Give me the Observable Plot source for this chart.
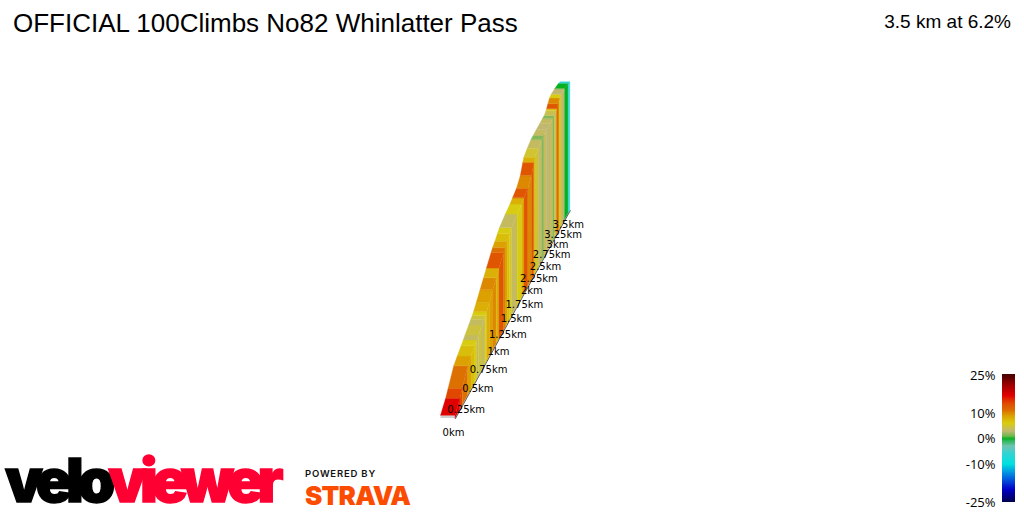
<!DOCTYPE html>
<html><head><meta charset="utf-8">
<script src="https://cdn.jsdelivr.net/npm/d3@7"></script>
<script src="https://cdn.jsdelivr.net/npm/@observablehq/plot@0.6"></script>
<style>
html,body{margin:0;padding:0;background:#fff;width:1024px;height:512px;overflow:hidden}
#wrap{position:relative;width:1024px;height:512px}
#wrap>*{position:absolute}
.t{font-family:"Liberation Sans",Arial,sans-serif;color:#000;white-space:nowrap}
</style></head><body><div id="wrap">
<div class="t" id="title" style="left:13px;top:8px;font-size:26px">OFFICIAL 100Climbs No82 Whinlatter Pass</div>
<div class="t" id="sub" style="right:13px;top:11px;font-size:19px">3.5 km at 6.2%</div>
<svg id="logo" width="420" height="62" style="left:0;top:450px">
<text x="5" y="52" font-family="Inter,sans-serif" font-weight="900" font-size="60" letter-spacing="-6.1" stroke-width="1.4" style="paint-order:stroke"><tspan fill="#000" stroke="#000">velo</tspan><tspan fill="#ff0033" stroke="#ff0033">viewer</tspan></text>
<text x="305" y="27" font-family="Inter,sans-serif" font-weight="600" font-size="9.5" letter-spacing=".8" fill="#111">POWERED BY</text>
<text x="305" y="55" font-family="Inter,sans-serif" font-weight="900" font-size="26" letter-spacing="-.8" fill="#fc4c02">STRAVA</text>
</svg>
</div>
<script>
// profile: segment boundaries (km), elevation above start (m), gradient colour class per segment (%)
const distanceKm = [0,.094,.141,.25,.32,.40,.443,.48,.56,.606,.637,.667,.731,.817,.902,.973,1.09,1.13,1.19,1.255,1.31,1.477,1.615,1.69,1.813,1.937,2.016,2.05,2.166,2.294,2.38,2.49,2.62,2.73,2.80,2.873,2.896,2.95,3.02,3.09,3.25,3.42,3.5];
const elevationM = [3,11.5,17.7,32,36.2,41,43.5,45.9,50.5,53.3,55.1,57,63.2,71.2,79.2,86,96.7,100,104,109,113,120.2,125.2,128.8,134.8,145.5,159.7,164.8,171.7,178,180.3,183.2,186.4,189.2,190.9,195.2,197.3,202.6,208.9,212,215,217,216.5];
const gradientPct = [17,14,11,9,7,6,3.5,4.5,3.5,4.5,6,8,9,10,8,13,11,9,7,6,3.5,6,8,13,10,13,8,5,3.5,1.5,3.5,3,3.5,1.5,4,6,13,10,6,3,0,-6];
const kmTicks = [0,.25,.5,.75,1,1.25,1.5,1.75,2,2.25,2.5,2.75,3,3.25,3.5];
const legendTicks = [25,10,0,-10,-25];
const colorStops = [-25,-20,-15,-10,-6,-3,-1,0,1,3,6,9,11,14,17,21,25];
const colorRange = ["#000050","#0000c8","#0070e0","#00e0e0","#30d4d4","#70c4b0","#30b860","#08b020","#70b850","#c0b870","#d8cc10","#dca000","#dc7000","#e04800","#e00000","#a00000","#4a0000"];
const color = {type:"linear",domain:colorStops,range:colorRange,interpolate:"rgb"};

// oblique perspective of the road: depth shrinks with distance
const depth = d => 1 + .176*d;
const along = d => d/depth(d);
const baseX = d => 455 + 53*along(d);
const baseY = d => 418 - 96*along(d);
const topY = (d,e) => baseY(d) - e*.958/depth(d);
const roadW = d => 13/depth(d)+1.5;

const slabs=[],walls=[];
gradientPct.forEach((g,i)=>{
  for (const j of [i,i+1]) {
    const d=distanceKm[j],e=elevationM[j];
    walls.push({i,g,x:baseX(d),y1:baseY(d),y2:topY(d,e)});
    slabs.push({i,g,x1:baseX(d)-roadW(d),x2:baseX(d),y:topY(d,e)});
  }
});
const labels = kmTicks.map(d=>({x:baseX(d)-2,y:baseY(d)+14.6,t:d+"km"}));
const baseLine = [0,3.5].map(d=>({x:baseX(d),y:baseY(d)}));
const front = [{x1:baseX(0)-roadW(0),x2:baseX(0),y1:baseY(0),y2:topY(0,elevationM[0])}];

const chart = Plot.plot({
  width:1024,height:512,margin:0,
  x:{domain:[0,1024],range:[0,1024],axis:null},
  y:{domain:[0,512],range:[0,512],axis:null},
  color,
  marks:[
    Plot.rect(front,{x1:"x1",x2:"x2",y1:"y1",y2:"y2",fill:"#cfcfcf"}),
    Plot.areaY(walls,{x:"x",y1:"y1",y2:"y2",z:"i",fill:"g",stroke:"g",strokeWidth:.3}),
    Plot.areaX(slabs,{y:"y",x1:"x1",x2:"x2",z:"i",fill:"g",stroke:"g",strokeWidth:.3}),
    Plot.line(baseLine,{x:"x",y:"y",stroke:"#333",strokeWidth:.8}),
    Plot.text(labels,{x:"x",y:"y",text:"t",fontSize:10,fontFamily:"DejaVu Sans",fill:"#000"})
  ],
  style:{background:"transparent"}
});
chart.style.left="0";chart.style.top="0";
document.getElementById("wrap").prepend(chart);

const ramp = d3.range(-25,25,.25);
const legend = Plot.plot({
  width:74,height:150,
  marginTop:15,marginBottom:8,marginLeft:52,marginRight:9,
  x:{domain:[0,1],axis:null},
  y:{domain:[-25,25],axis:null},
  color,
  marks:[
    Plot.rect(ramp,{x1:0,x2:1,y1:d=>d,y2:d=>d+.75,fill:d=>d+.125,shapeRendering:"crispEdges"}),
    Plot.axisY(legendTicks,{anchor:"left",tickSize:0,tickPadding:7,tickFormat:d=>d+"%",fontSize:13,fontFamily:"Open Sans",label:null,stroke:"none"})
  ],
  style:{background:"transparent"}
});
legend.style.left="950px";legend.style.top="360px";
document.getElementById("wrap").append(legend);
</script></body></html>
